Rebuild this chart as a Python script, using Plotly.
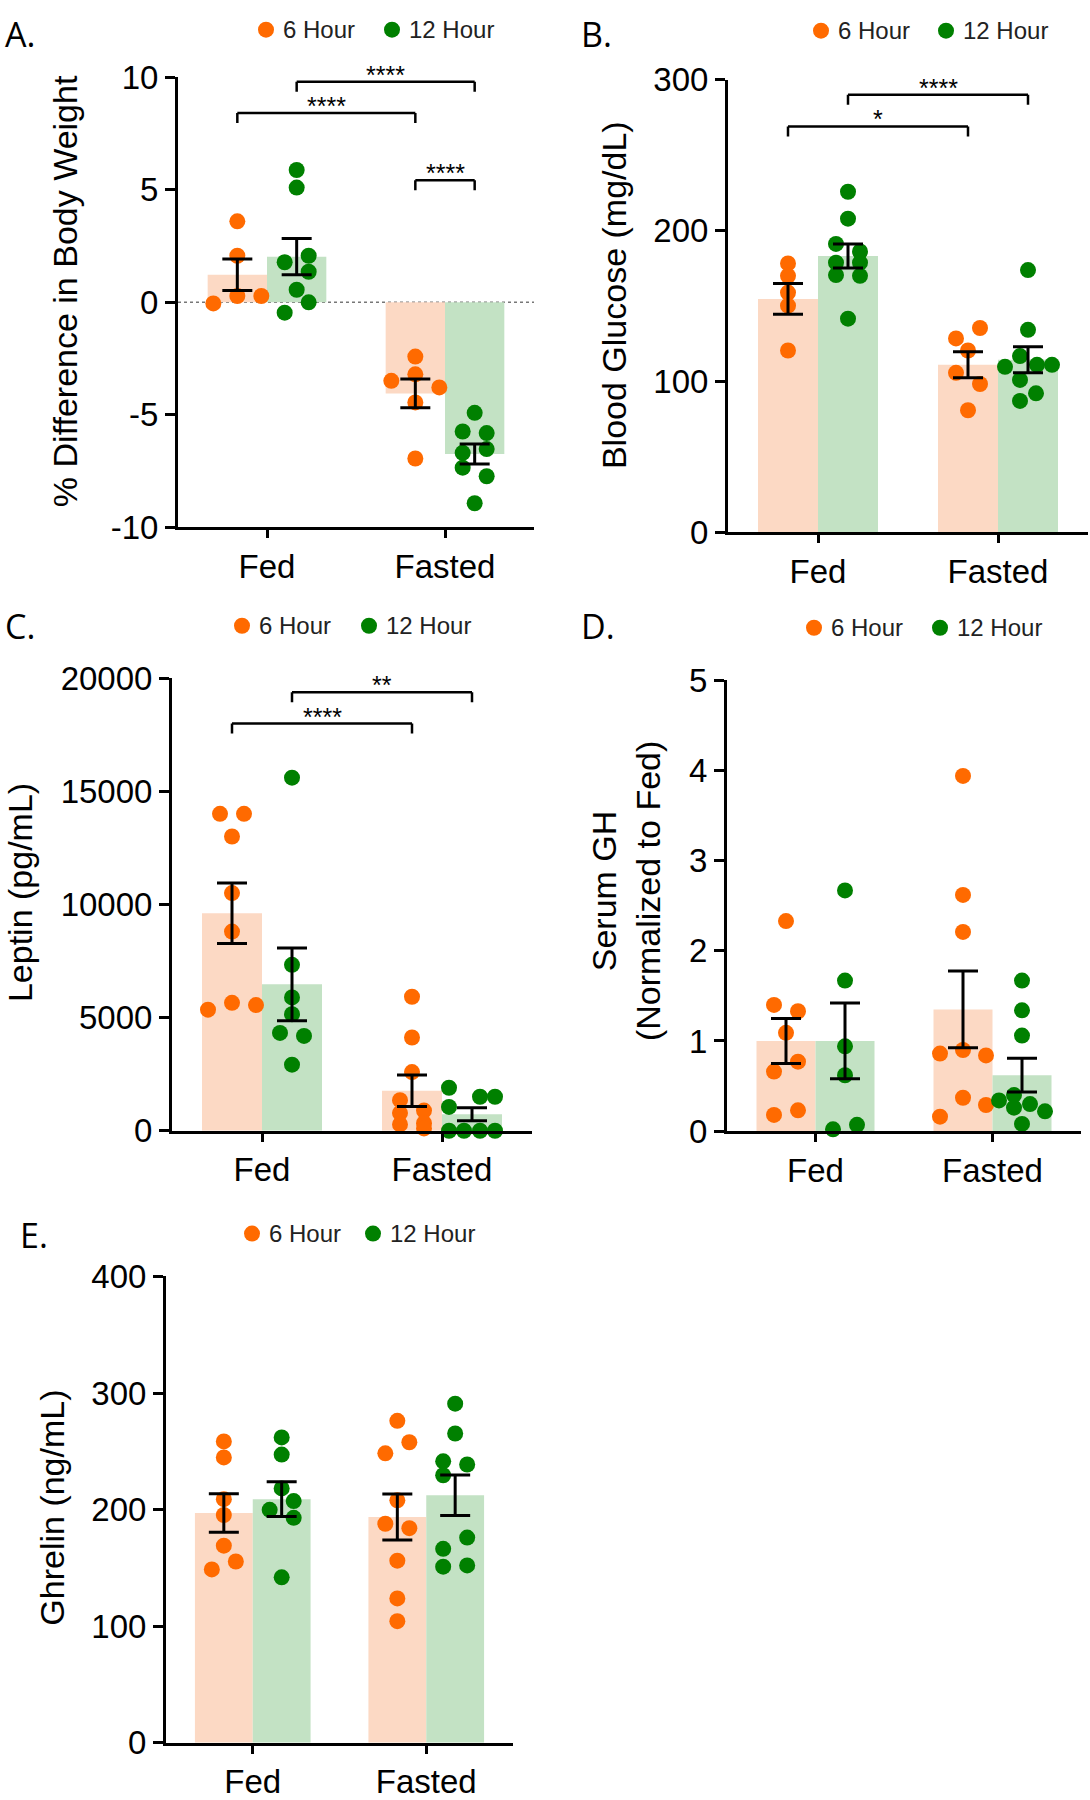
import plotly.graph_objects as go

W, H = 1090, 1800

categories = ["Fed", "Fasted"]
groups = ["6 Hour", "12 Hour"]

# ---------------- Panel A: % Difference in Body Weight ----------------
a_fed_6h = [3.60, 2.07, 0.28, 0.28, -0.05]
a_fed_12h = [5.88, 5.10, 2.07, 1.78, 1.36, 0.56, 0.00, -0.46]
a_fasted_6h = [-2.41, -3.20, -3.49, -3.78, -4.45, -6.94]
a_fasted_12h = [-4.91, -5.74, -5.81, -6.52, -6.69, -7.35, -7.73, -8.93]
a_mean_6h = [1.23, -4.05]
a_mean_12h = [2.03, -6.74]
a_sem_6h = [0.70, 0.64]
a_sem_12h = [0.81, 0.44]
a_ticks = [-10, -5, 0, 5, 10]
a_tick_labels = ["-10", "-5", "0", "5", "10"]
a_bracket_heights = [8.41, 9.80, 5.42]
a_bracket_labels = ["****", "****", "****"]

# ---------------- Panel B: Blood Glucose ----------------
b_fed_6h = [178.2, 170.0, 158.9, 150.2, 120.5]
b_fed_12h = [225.7, 207.9, 191.1, 186.1, 178.7, 178.7, 170.5, 170.0, 141.6]
b_fasted_6h = [135.4, 128.5, 120.5, 105.7, 98.3, 80.9]
b_fasted_12h = [173.8, 134.2, 116.8, 111.0, 109.7, 111.0, 101.0, 92.1, 87.1]
b_mean_6h = [154.7, 111.1]
b_mean_12h = [183.2, 114.4]
b_sem_6h = [10.15, 8.65]
b_sem_12h = [7.95, 8.65]
b_ticks = [0, 100, 200, 300]
b_tick_labels = ["0", "100", "200", "300"]
b_bracket_heights = [269, 290]
b_bracket_labels = ["*", "****"]

# ---------------- Panel C: Leptin ----------------
c_fed_6h = [14000, 14000, 13000, 10500, 8800, 5350, 5650, 5550]
c_fed_12h = [15600, 7330, 5890, 5150, 4320, 4190, 2920]
c_fasted_6h = [5920, 4120, 2590, 1350, 890, 780, 330, 280, 100]
c_fasted_12h = [1900, 1500, 1500, 1050, 0, 0, 0, 0]
c_mean_6h = [9604, 1766]
c_mean_12h = [6469, 726]
c_sem_6h = [1336, 693]
c_sem_12h = [1609, 289]
c_ticks = [0, 5000, 10000, 15000, 20000]
c_tick_labels = ["0", "5000", "10000", "15000", "20000"]
c_bracket_heights = [17987, 19373]
c_bracket_labels = ["****", "**"]

# ---------------- Panel D: Serum GH ----------------
d_fed_6h = [2.33, 1.40, 1.33, 1.09, 0.77, 0.66, 0.23, 0.18]
d_fed_12h = [2.67, 1.67, 0.94, 0.62, 0.07, 0.02]
d_fasted_6h = [3.94, 2.62, 2.21, 0.90, 0.86, 0.84, 0.37, 0.29, 0.16]
d_fasted_12h = [1.67, 1.34, 1.06, 0.40, 0.34, 0.26, 0.30, 0.22, 0.08]
d_mean_6h = [1.00, 1.35]
d_mean_12h = [1.00, 0.62]
d_sem_6h = [0.25, 0.425]
d_sem_12h = [0.42, 0.187]
d_ticks = [0, 1, 2, 3, 4, 5]
d_tick_labels = ["0", "1", "2", "3", "4", "5"]

# ---------------- Panel E: Ghrelin ----------------
e_fed_6h = [258.5, 244.8, 209.0, 195.4, 169.1, 155.5, 148.7]
e_fed_12h = [261.9, 247.2, 218.2, 207.3, 199.8, 193.0, 141.9]
e_fasted_6h = [276.2, 257.8, 248.3, 208.0, 187.9, 184.1, 156.2, 123.8, 104.3]
e_fasted_12h = [290.9, 265.3, 241.4, 238.7, 229.5, 176.0, 166.4, 152.1, 151.1]
e_mean_6h = [197.1, 193.7]
e_mean_12h = [209.0, 212.4]
e_sem_6h = [16.55, 19.65]
e_sem_12h = [14.85, 17.4]
e_ticks = [0, 100, 200, 300, 400]
e_tick_labels = ["0", "100", "200", "300", "400"]

# ---------------- dot spreading (horizontal pixel offsets, layout only) ----------------
a_spread = [[0, 0, 0, 24, -24], [0, 0, 12, -12, 12, 0, 12, -12],
            [0, 0, -24, 24, 0, 0], [0, -12, 12, 12, -12, -12, 12, 0]]
b_spread = [[0, 0, 0, 0, 0], [0, 0, -12, 12, -12, 12, -12, 12, 0],
            [12, -12, 0, -12, 12, 0], [0, 0, -8, 9, -23, 24, -8, 8, -8]]
c_spread = [[-12, 12, 0, 0, 0, -24, 0, 24], [0, 0, 0, 0, -12, 12, 0],
            [0, 0, 0, -12, 12, -12, 12, -12, 12], [-23, 8, 23, -23, -23, -8, 8, 23]]
d_spread = [[0, -12, 12, 0, 12, -12, 12, -12], [0, 0, 0, 0, 12, -12],
            [0, 0, 0, 0, -23, 23, 0, 23, -23], [0, 0, 0, -8, -23, -8, 8, 23, 0]]
e_spread = [[0, 0, 0, 0, 0, 12, -12], [0, 0, 0, 12, -12, 12, 0],
            [0, 12, -12, 0, -12, 12, 0, 0, 0], [0, 0, -12, 12, -12, 12, -12, 12, -12]]

ORANGE = "#FF6A00"
GREEN = "#008000"
ORANGE_BAR = "#FCD9C4"
GREEN_BAR = "#C3E2C4"
FONT = "Liberation Sans, Arial, sans-serif"

panels = [
    dict(letter="A.", box=(178, 60.8, 534, 522.1), yr=[-10, 10],
         ticks=a_ticks, labels=a_tick_labels,
         pts=[a_fed_6h, a_fed_12h, a_fasted_6h, a_fasted_12h], spread=a_spread,
         m6=a_mean_6h, m12=a_mean_12h, s6=a_sem_6h, s12=a_sem_12h,
         title="% Difference in Body Weight", title_xy=(65, 280),
         letter_xy=(3, 16), legend=(266, 12, 392),
         brackets=[((0, 0), (1, 0), a_bracket_heights[0], a_bracket_labels[0]),
                   ((0, 1), (1, 1), a_bracket_heights[1], a_bracket_labels[1]),
                   ((1, 0), (1, 1), a_bracket_heights[2], a_bracket_labels[2])],
         zero_line=True),
    dict(letter="B.", box=(728, 63.2, 1088, 527.2), yr=[0, 300],
         ticks=b_ticks, labels=b_tick_labels,
         pts=[b_fed_6h, b_fed_12h, b_fasted_6h, b_fasted_12h], spread=b_spread,
         m6=b_mean_6h, m12=b_mean_12h, s6=b_sem_6h, s12=b_sem_12h,
         title="Blood Glucose (mg/dL)", title_xy=(614, 284),
         letter_xy=(579, 16), legend=(821, 13, 946),
         brackets=[((0, 0), (1, 0), b_bracket_heights[0], b_bracket_labels[0]),
                   ((0, 1), (1, 1), b_bracket_heights[1], b_bracket_labels[1])],
         zero_line=False),
    dict(letter="C.", box=(172, 676.6, 532, 1140.6), yr=[0, 20000],
         ticks=c_ticks, labels=c_tick_labels,
         pts=[c_fed_6h, c_fed_12h, c_fasted_6h, c_fasted_12h], spread=c_spread,
         m6=c_mean_6h, m12=c_mean_12h, s6=c_sem_6h, s12=c_sem_12h,
         title="Leptin (pg/mL)", title_xy=(20, 897),
         letter_xy=(3, 623), legend=(242, 623, 369),
         brackets=[((0, 0), (1, 0), c_bracket_heights[0], c_bracket_labels[0]),
                   ((0, 1), (1, 1), c_bracket_heights[1], c_bracket_labels[1])],
         zero_line=False),
    dict(letter="D.", box=(727, 679, 1081, 1141), yr=[0, 5],
         ticks=d_ticks, labels=d_tick_labels,
         pts=[d_fed_6h, d_fed_12h, d_fasted_6h, d_fasted_12h], spread=d_spread,
         m6=d_mean_6h, m12=d_mean_12h, s6=d_sem_6h, s12=d_sem_12h,
         title="Serum GH<br>(Normalized to Fed)", title_xy=(626, 895),
         letter_xy=(579, 623), legend=(814, 625, 940),
         brackets=[], zero_line=False),
    dict(letter="E.", box=(166, 1290, 513, 1768), yr=[0, 400],
         ticks=e_ticks, labels=e_tick_labels,
         pts=[e_fed_6h, e_fed_12h, e_fasted_6h, e_fasted_12h], spread=e_spread,
         m6=e_mean_6h, m12=e_mean_12h, s6=e_sem_6h, s12=e_sem_12h,
         title="Ghrelin (ng/mL)", title_xy=(52, 1527),
         letter_xy=(18, 1247), legend=(252, 1246, 373),
         brackets=[], zero_line=False),
]

fig = go.Figure()
layout = dict(width=W, height=H, margin=dict(l=0, r=0, t=0, b=0),
              paper_bgcolor="white", plot_bgcolor="white", showlegend=False,
              barmode="overlay", font=dict(family=FONT, color="black"))
shapes, annotations = [], []

BAR_W = 1 / 3
GROUP_OFF = [-1 / 6, 1 / 6]


def px(x):
    return x / W


def py(y):
    return 1 - y / H


for i, p in enumerate(panels, start=1):
    sfx = "" if i == 1 else str(i)
    xa, ya = "x" + sfx, "y" + sfx
    x0, y0, x1, y1 = p["box"]
    px_per_cat = (x1 - x0) / 2.0

    layout["xaxis" + sfx] = dict(
        domain=[px(x0), px(x1)], anchor=ya, range=[-0.5, 1.5],
        tickvals=[0, 1], ticktext=categories, ticks="outside", ticklen=8,
        tickwidth=3, tickcolor="black", showline=True, linewidth=3, linecolor="black",
        showgrid=False, zeroline=False, tickfont=dict(size=33, family=FONT),
        fixedrange=True)
    layout["yaxis" + sfx] = dict(
        domain=[py(y1), py(y0)], anchor=xa, range=p["yr"],
        tickvals=p["ticks"], ticktext=p["labels"], ticks="outside", ticklen=10,
        tickwidth=3, tickcolor="black", showline=True, linewidth=3, linecolor="black",
        showgrid=False, zeroline=False, tickfont=dict(size=33, family=FONT),
        fixedrange=True)

    # bars (means)
    for g, (means, col) in enumerate([(p["m6"], ORANGE_BAR), (p["m12"], GREEN_BAR)]):
        fig.add_trace(go.Bar(x=[0, 1], y=means, width=[BAR_W, BAR_W],
                             offset=[-BAR_W if g == 0 else 0] * 2,
                             marker=dict(color=col, line=dict(width=0)),
                             xaxis=xa, yaxis=ya, name=groups[g]))

    if p["zero_line"]:
        shapes.append(dict(type="line", xref=xa + " domain", yref=ya, x0=0, x1=1,
                           y0=0, y1=0, line=dict(color="#777777", width=1.5, dash="dot"),
                           layer="below"))

    # individual points
    order = [(0, 0), (0, 1), (1, 0), (1, 1)]  # (category, group)
    for g, col in [(0, ORANGE), (1, GREEN)]:
        xs, ys = [], []
        for k, (c, gg) in enumerate(order):
            if gg != g:
                continue
            vals = p["pts"][k]
            offs = p["spread"][k]
            for v, o in zip(vals, offs):
                xs.append(c + GROUP_OFF[g] + o / px_per_cat)
                ys.append(v)
        fig.add_trace(go.Scatter(x=xs, y=ys, mode="markers", cliponaxis=False,
                                 marker=dict(size=16, color=col, line=dict(width=0)),
                                 xaxis=xa, yaxis=ya, name=groups[g]))

    # error bars (SEM)
    for g, (means, sems) in enumerate([(p["m6"], p["s6"]), (p["m12"], p["s12"])]):
        fig.add_trace(go.Scatter(
            x=[c + GROUP_OFF[g] for c in (0, 1)], y=means, mode="markers",
            cliponaxis=False, marker=dict(size=1, color="rgba(0,0,0,0)"),
            error_y=dict(type="data", array=sems, visible=True, color="black",
                         thickness=3, width=15),
            xaxis=xa, yaxis=ya, name=groups[g]))

    # significance brackets
    for (ca, ga), (cb, gb), h, lab in p["brackets"]:
        xa0 = ca + GROUP_OFF[ga]
        xb0 = cb + GROUP_OFF[gb]
        lw = dict(color="black", width=2.5)
        shapes.append(dict(type="line", xref=xa, yref=ya, x0=xa0, x1=xb0, y0=h, y1=h, line=lw))
        for xe in (xa0, xb0):
            shapes.append(dict(type="line", xref=xa, yref=ya, x0=xe, x1=xe,
                               ysizemode="pixel", yanchor=h, y0=0, y1=-10, line=lw))
        annotations.append(dict(xref=xa, yref=ya, x=(xa0 + xb0) / 2, y=h, text=lab,
                                showarrow=False, yanchor="bottom", yshift=-9,
                                font=dict(size=25, family=FONT, color="black")))

    # y-axis title
    tx, ty = p["title_xy"]
    annotations.append(dict(xref="paper", yref="paper", x=px(tx), y=py(ty),
                            text=p["title"], textangle=-90, showarrow=False,
                            xanchor="center", yanchor="middle",
                            font=dict(size=34, family=FONT, color="black")))

    # panel letter
    lx, ly = p["letter_xy"]
    annotations.append(dict(xref="paper", yref="paper", x=px(lx), y=py(ly),
                            text=p["letter"], showarrow=False, xanchor="left",
                            yanchor="middle", font=dict(size=34, family="Open Sans", color="black")))

    # legend
    ox, ly2, gx = p["legend"]
    for cx, col, lab in [(ox, ORANGE, groups[0]), (gx, GREEN, groups[1])]:
        shapes.append(dict(type="circle", xref="paper", yref="paper",
                           xsizemode="pixel", ysizemode="pixel",
                           xanchor=px(cx), yanchor=py(ly2), x0=-8, x1=8, y0=-8, y1=8,
                           fillcolor=col, line=dict(width=0)))
        annotations.append(dict(xref="paper", yref="paper", x=px(cx + 15), y=py(ly2),
                                text=lab, showarrow=False, xanchor="left",
                                yanchor="middle",
                                font=dict(size=24, family=FONT, color="#222222")))

layout["shapes"] = shapes
layout["annotations"] = annotations
fig.update_layout(**layout)
fig.write_html("out.html", config={"displayModeBar": False},
               post_script="document.body.style.margin='0px';")
